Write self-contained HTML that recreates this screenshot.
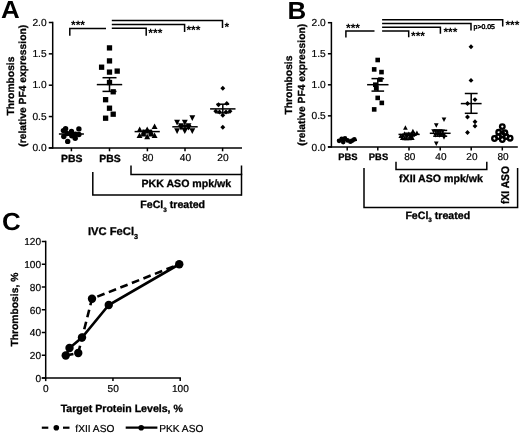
<!DOCTYPE html>
<html><head><meta charset="utf-8"><title>Figure</title>
<style>
html,body{margin:0;padding:0;background:#fff;}
svg{display:block;}
</style></head>
<body>
<svg width="520" height="434" viewBox="0 0 520 434" text-rendering="geometricPrecision">
<rect width="520" height="434" fill="#fff"/>
<text transform="translate(0.9,18.2) scale(1.05,1)" font-size="24.7" font-family="Liberation Sans, sans-serif" font-weight="bold">A</text>
<line x1="52.70" y1="21.75" x2="52.70" y2="148.65" stroke="#000" stroke-width="1.5" />
<line x1="48.80" y1="147.90" x2="242.00" y2="147.90" stroke="#000" stroke-width="1.5" />
<line x1="48.80" y1="147.90" x2="52.70" y2="147.90" stroke="#000" stroke-width="1.5" />
<text x="46.60" y="151.10" font-size="10.2" font-family="Liberation Sans, sans-serif" text-anchor="end"  stroke="#000" stroke-width="0.2">0.0</text>
<line x1="48.80" y1="116.55" x2="52.70" y2="116.55" stroke="#000" stroke-width="1.5" />
<text x="46.60" y="119.75" font-size="10.2" font-family="Liberation Sans, sans-serif" text-anchor="end"  stroke="#000" stroke-width="0.2">0.5</text>
<line x1="48.80" y1="85.20" x2="52.70" y2="85.20" stroke="#000" stroke-width="1.5" />
<text x="46.60" y="88.40" font-size="10.2" font-family="Liberation Sans, sans-serif" text-anchor="end"  stroke="#000" stroke-width="0.2">1.0</text>
<line x1="48.80" y1="53.85" x2="52.70" y2="53.85" stroke="#000" stroke-width="1.5" />
<text x="46.60" y="57.05" font-size="10.2" font-family="Liberation Sans, sans-serif" text-anchor="end"  stroke="#000" stroke-width="0.2">1.5</text>
<line x1="48.80" y1="22.50" x2="52.70" y2="22.50" stroke="#000" stroke-width="1.5" />
<text x="46.60" y="25.70" font-size="10.2" font-family="Liberation Sans, sans-serif" text-anchor="end"  stroke="#000" stroke-width="0.2">2.0</text>
<line x1="71.40" y1="147.90" x2="71.40" y2="151.30" stroke="#000" stroke-width="1.5" />
<text x="71.80" y="161.70" font-size="10.4" font-family="Liberation Sans, sans-serif" font-weight="bold" text-anchor="middle"  stroke="#000" stroke-width="0.3">PBS</text>
<line x1="109.50" y1="147.90" x2="109.50" y2="151.30" stroke="#000" stroke-width="1.5" />
<text x="109.90" y="161.70" font-size="10.4" font-family="Liberation Sans, sans-serif" font-weight="bold" text-anchor="middle"  stroke="#000" stroke-width="0.3">PBS</text>
<line x1="147.40" y1="147.90" x2="147.40" y2="151.30" stroke="#000" stroke-width="1.5" />
<text x="147.80" y="161.10" font-size="10.2" font-family="Liberation Sans, sans-serif" text-anchor="middle"  stroke="#000" stroke-width="0.2">80</text>
<line x1="185.00" y1="147.90" x2="185.00" y2="151.30" stroke="#000" stroke-width="1.5" />
<text x="185.40" y="161.10" font-size="10.2" font-family="Liberation Sans, sans-serif" text-anchor="middle"  stroke="#000" stroke-width="0.2">40</text>
<line x1="222.60" y1="147.90" x2="222.60" y2="151.30" stroke="#000" stroke-width="1.5" />
<text x="223.00" y="161.10" font-size="10.2" font-family="Liberation Sans, sans-serif" text-anchor="middle"  stroke="#000" stroke-width="0.2">20</text>
<text transform="translate(13.80,86.00) rotate(-90) scale(1,1)" font-size="10.3" font-family="Liberation Sans, sans-serif" font-weight="bold" stroke="#000" stroke-width="0.3" text-anchor="middle">Thrombosis</text>
<text transform="translate(25.90,85.80) rotate(-90) scale(1,1)" font-size="10.3" font-family="Liberation Sans, sans-serif" font-weight="bold" stroke="#000" stroke-width="0.3" text-anchor="middle">(relative PF4 expression)</text>
<circle cx="65.60" cy="128.80" r="2.7" fill="#000"/>
<circle cx="63.40" cy="130.60" r="2.7" fill="#000"/>
<circle cx="78.90" cy="128.90" r="2.7" fill="#000"/>
<circle cx="71.50" cy="131.40" r="2.7" fill="#000"/>
<circle cx="67.10" cy="133.50" r="2.7" fill="#000"/>
<circle cx="63.80" cy="136.50" r="2.7" fill="#000"/>
<circle cx="75.20" cy="138.30" r="2.7" fill="#000"/>
<circle cx="78.90" cy="134.50" r="2.7" fill="#000"/>
<circle cx="71.80" cy="135.80" r="2.7" fill="#000"/>
<circle cx="75.60" cy="134.30" r="2.7" fill="#000"/>
<circle cx="67.70" cy="141.40" r="2.7" fill="#000"/>
<line x1="58.90" y1="134.00" x2="83.90" y2="134.00" stroke="#000" stroke-width="1.5" />
<line x1="66.40" y1="132.80" x2="76.40" y2="132.80" stroke="#000" stroke-width="1.5" />
<line x1="66.40" y1="135.20" x2="76.40" y2="135.20" stroke="#000" stroke-width="1.5" />
<line x1="71.40" y1="132.80" x2="71.40" y2="135.20" stroke="#000" stroke-width="1.5" />
<rect x="106.85" y="45.25" width="5.3" height="5.3" fill="#000"/>
<rect x="106.85" y="58.25" width="5.3" height="5.3" fill="#000"/>
<rect x="98.95" y="64.55" width="5.3" height="5.3" fill="#000"/>
<rect x="106.85" y="69.45" width="5.3" height="5.3" fill="#000"/>
<rect x="114.55" y="68.45" width="5.3" height="5.3" fill="#000"/>
<rect x="106.85" y="79.85" width="5.3" height="5.3" fill="#000"/>
<rect x="110.55" y="89.15" width="5.3" height="5.3" fill="#000"/>
<rect x="102.95" y="97.05" width="5.3" height="5.3" fill="#000"/>
<rect x="106.85" y="105.55" width="5.3" height="5.3" fill="#000"/>
<rect x="110.55" y="111.55" width="5.3" height="5.3" fill="#000"/>
<rect x="102.95" y="115.55" width="5.3" height="5.3" fill="#000"/>
<line x1="96.80" y1="84.60" x2="122.20" y2="84.60" stroke="#000" stroke-width="1.5" />
<line x1="102.50" y1="77.70" x2="116.50" y2="77.70" stroke="#000" stroke-width="1.5" />
<line x1="102.50" y1="91.40" x2="116.50" y2="91.40" stroke="#000" stroke-width="1.5" />
<line x1="109.50" y1="77.70" x2="109.50" y2="91.40" stroke="#000" stroke-width="1.5" />
<polygon points="151.65,129.00 157.55,129.00 154.60,123.40" fill="#000"/>
<polygon points="136.75,132.10 142.65,132.10 139.70,126.50" fill="#000"/>
<polygon points="144.25,132.10 150.15,132.10 147.20,126.50" fill="#000"/>
<polygon points="140.55,134.80 146.45,134.80 143.50,129.20" fill="#000"/>
<polygon points="148.05,134.80 153.95,134.80 151.00,129.20" fill="#000"/>
<polygon points="136.55,138.00 142.45,138.00 139.50,132.40" fill="#000"/>
<polygon points="144.25,139.20 150.15,139.20 147.20,133.60" fill="#000"/>
<polygon points="151.65,138.00 157.55,138.00 154.60,132.40" fill="#000"/>
<polygon points="140.55,136.40 146.45,136.40 143.50,130.80" fill="#000"/>
<polygon points="148.05,136.40 153.95,136.40 151.00,130.80" fill="#000"/>
<line x1="134.60" y1="131.60" x2="159.80" y2="131.60" stroke="#000" stroke-width="1.5" />
<line x1="142.20" y1="130.40" x2="152.20" y2="130.40" stroke="#000" stroke-width="1.5" />
<line x1="142.20" y1="132.80" x2="152.20" y2="132.80" stroke="#000" stroke-width="1.5" />
<line x1="147.20" y1="130.40" x2="147.20" y2="132.80" stroke="#000" stroke-width="1.5" />
<polygon points="189.35,115.30 195.25,115.30 192.30,120.90" fill="#000"/>
<polygon points="174.15,119.80 180.05,119.80 177.10,125.40" fill="#000"/>
<polygon points="181.85,119.80 187.75,119.80 184.80,125.40" fill="#000"/>
<polygon points="177.95,123.20 183.85,123.20 180.90,128.80" fill="#000"/>
<polygon points="185.55,123.20 191.45,123.20 188.50,128.80" fill="#000"/>
<polygon points="174.15,128.30 180.05,128.30 177.10,133.90" fill="#000"/>
<polygon points="181.85,128.50 187.75,128.50 184.80,134.10" fill="#000"/>
<polygon points="189.35,128.30 195.25,128.30 192.30,133.90" fill="#000"/>
<polygon points="178.05,125.00 183.95,125.00 181.00,130.60" fill="#000"/>
<polygon points="185.55,125.00 191.45,125.00 188.50,130.60" fill="#000"/>
<line x1="172.30" y1="126.80" x2="197.70" y2="126.80" stroke="#000" stroke-width="1.5" />
<line x1="180.00" y1="125.20" x2="190.00" y2="125.20" stroke="#000" stroke-width="1.5" />
<line x1="180.00" y1="128.40" x2="190.00" y2="128.40" stroke="#000" stroke-width="1.5" />
<line x1="185.00" y1="125.20" x2="185.00" y2="128.40" stroke="#000" stroke-width="1.5" />
<polygon points="220.35,88.20 222.80,85.75 225.25,88.20 222.80,90.65" fill="#000"/>
<polygon points="220.35,127.30 222.80,124.85 225.25,127.30 222.80,129.75" fill="#000"/>
<polygon points="224.35,103.40 226.80,100.95 229.25,103.40 226.80,105.85" fill="#000"/>
<polygon points="216.05,104.80 218.50,102.35 220.95,104.80 218.50,107.25" fill="#000"/>
<polygon points="213.35,111.20 215.80,108.75 218.25,111.20 215.80,113.65" fill="#000"/>
<polygon points="227.55,111.20 230.00,108.75 232.45,111.20 230.00,113.65" fill="#000"/>
<polygon points="220.35,115.30 222.80,112.85 225.25,115.30 222.80,117.75" fill="#000"/>
<polygon points="217.05,112.00 219.50,109.55 221.95,112.00 219.50,114.45" fill="#000"/>
<polygon points="223.55,112.00 226.00,109.55 228.45,112.00 226.00,114.45" fill="#000"/>
<line x1="210.10" y1="108.90" x2="235.50" y2="108.90" stroke="#000" stroke-width="1.5" />
<line x1="216.40" y1="104.20" x2="229.20" y2="104.20" stroke="#000" stroke-width="1.5" />
<line x1="216.40" y1="112.90" x2="229.20" y2="112.90" stroke="#000" stroke-width="1.5" />
<line x1="222.80" y1="104.20" x2="222.80" y2="112.90" stroke="#000" stroke-width="1.5" />
<polyline points="69.80,35.80 69.80,28.40 106.00,28.40" fill="none" stroke="#000" stroke-width="1.5" stroke-linejoin="miter" />
<text x="71.00" y="29.30" font-size="12" font-family="Liberation Sans, sans-serif" font-weight="bold" text-anchor="start" stroke="none">***</text>
<polyline points="111.80,20.50 222.50,20.50 222.50,28.00" fill="none" stroke="#000" stroke-width="1.5" stroke-linejoin="miter" />
<polyline points="111.80,24.40 184.60,24.40 184.60,32.00" fill="none" stroke="#000" stroke-width="1.5" stroke-linejoin="miter" />
<polyline points="111.80,28.20 146.20,28.20 146.20,35.80" fill="none" stroke="#000" stroke-width="1.5" stroke-linejoin="miter" />
<text x="148.30" y="37.40" font-size="12" font-family="Liberation Sans, sans-serif" font-weight="bold" text-anchor="start" stroke="none">***</text>
<text x="186.40" y="34.00" font-size="12" font-family="Liberation Sans, sans-serif" font-weight="bold" text-anchor="start" stroke="none">***</text>
<text x="224.40" y="30.50" font-size="12" font-family="Liberation Sans, sans-serif" font-weight="bold" text-anchor="start" stroke="none">*</text>
<polyline points="131.00,165.40 131.00,174.60 241.50,174.60 241.50,165.40" fill="none" stroke="#000" stroke-width="1.5" stroke-linejoin="miter" />
<text x="186.40" y="187.10" font-size="10.6" font-family="Liberation Sans, sans-serif" font-weight="bold" text-anchor="middle"  stroke="#000" stroke-width="0.3">PKK ASO mpk/wk</text>
<polyline points="92.80,172.00 92.80,195.00 241.50,195.00" fill="none" stroke="#000" stroke-width="1.5" stroke-linejoin="miter" />
<line x1="241.50" y1="173.60" x2="241.50" y2="195.75" stroke="#000" stroke-width="1.5" />
<text x="140.30" y="207.60" font-size="10.6" font-family="Liberation Sans, sans-serif" font-weight="bold" text-anchor="start"  stroke="#000" stroke-width="0.3">FeCl<tspan font-size="6.3" dy="3.9">3</tspan><tspan dy="-3.9"> treated</tspan></text>
<text transform="translate(287.6,19.2) scale(1.05,1)" font-size="24.7" font-family="Liberation Sans, sans-serif" font-weight="bold">B</text>
<line x1="331.40" y1="21.95" x2="331.40" y2="147.65" stroke="#000" stroke-width="1.5" />
<line x1="327.90" y1="146.90" x2="517.80" y2="146.90" stroke="#000" stroke-width="1.5" />
<line x1="327.90" y1="146.90" x2="331.40" y2="146.90" stroke="#000" stroke-width="1.5" />
<text x="325.70" y="150.50" font-size="10.2" font-family="Liberation Sans, sans-serif" text-anchor="end"  stroke="#000" stroke-width="0.2">0.0</text>
<line x1="327.90" y1="115.85" x2="331.40" y2="115.85" stroke="#000" stroke-width="1.5" />
<text x="325.70" y="119.45" font-size="10.2" font-family="Liberation Sans, sans-serif" text-anchor="end"  stroke="#000" stroke-width="0.2">0.5</text>
<line x1="327.90" y1="84.80" x2="331.40" y2="84.80" stroke="#000" stroke-width="1.5" />
<text x="325.70" y="88.40" font-size="10.2" font-family="Liberation Sans, sans-serif" text-anchor="end"  stroke="#000" stroke-width="0.2">1.0</text>
<line x1="327.90" y1="53.75" x2="331.40" y2="53.75" stroke="#000" stroke-width="1.5" />
<text x="325.70" y="57.35" font-size="10.2" font-family="Liberation Sans, sans-serif" text-anchor="end"  stroke="#000" stroke-width="0.2">1.5</text>
<line x1="327.90" y1="22.70" x2="331.40" y2="22.70" stroke="#000" stroke-width="1.5" />
<text x="325.70" y="26.30" font-size="10.2" font-family="Liberation Sans, sans-serif" text-anchor="end"  stroke="#000" stroke-width="0.2">2.0</text>
<line x1="347.20" y1="146.90" x2="347.20" y2="150.50" stroke="#000" stroke-width="1.5" />
<text x="347.90" y="160.20" font-size="9.4" font-family="Liberation Sans, sans-serif" font-weight="bold" text-anchor="middle"  stroke="#000" stroke-width="0.3">PBS</text>
<line x1="377.80" y1="146.90" x2="377.80" y2="150.50" stroke="#000" stroke-width="1.5" />
<text x="378.50" y="160.20" font-size="9.4" font-family="Liberation Sans, sans-serif" font-weight="bold" text-anchor="middle"  stroke="#000" stroke-width="0.3">PBS</text>
<line x1="409.00" y1="146.90" x2="409.00" y2="150.50" stroke="#000" stroke-width="1.5" />
<text x="409.70" y="160.20" font-size="10.0" font-family="Liberation Sans, sans-serif" text-anchor="middle"  stroke="#000" stroke-width="0.2">80</text>
<line x1="440.20" y1="146.90" x2="440.20" y2="150.50" stroke="#000" stroke-width="1.5" />
<text x="440.90" y="160.20" font-size="10.0" font-family="Liberation Sans, sans-serif" text-anchor="middle"  stroke="#000" stroke-width="0.2">40</text>
<line x1="471.20" y1="146.90" x2="471.20" y2="150.50" stroke="#000" stroke-width="1.5" />
<text x="471.90" y="160.20" font-size="10.0" font-family="Liberation Sans, sans-serif" text-anchor="middle"  stroke="#000" stroke-width="0.2">20</text>
<line x1="502.30" y1="146.90" x2="502.30" y2="150.50" stroke="#000" stroke-width="1.5" />
<text x="503.00" y="160.20" font-size="10.0" font-family="Liberation Sans, sans-serif" text-anchor="middle"  stroke="#000" stroke-width="0.2">80</text>
<text transform="translate(291.90,85.00) rotate(-90) scale(1,1)" font-size="10.3" font-family="Liberation Sans, sans-serif" font-weight="bold" stroke="#000" stroke-width="0.3" text-anchor="middle">Thrombosis</text>
<text transform="translate(304.90,84.80) rotate(-90) scale(1,1)" font-size="10.3" font-family="Liberation Sans, sans-serif" font-weight="bold" stroke="#000" stroke-width="0.3" text-anchor="middle">(relative PF4 expression)</text>
<circle cx="339.10" cy="140.80" r="2.35" fill="#000"/>
<circle cx="341.70" cy="138.80" r="2.35" fill="#000"/>
<circle cx="345.00" cy="138.40" r="2.35" fill="#000"/>
<circle cx="343.20" cy="142.10" r="2.35" fill="#000"/>
<circle cx="347.50" cy="140.40" r="2.35" fill="#000"/>
<circle cx="350.40" cy="141.70" r="2.35" fill="#000"/>
<circle cx="354.30" cy="139.30" r="2.35" fill="#000"/>
<circle cx="352.30" cy="140.60" r="2.35" fill="#000"/>
<line x1="337.00" y1="140.30" x2="357.00" y2="140.30" stroke="#000" stroke-width="1.5" />
<rect x="375.40" y="57.70" width="4.6" height="4.6" fill="#000"/>
<rect x="371.90" y="67.10" width="4.6" height="4.6" fill="#000"/>
<rect x="379.20" y="69.80" width="4.6" height="4.6" fill="#000"/>
<rect x="378.10" y="77.30" width="4.6" height="4.6" fill="#000"/>
<rect x="373.00" y="82.40" width="4.6" height="4.6" fill="#000"/>
<rect x="373.90" y="86.10" width="4.6" height="4.6" fill="#000"/>
<rect x="375.40" y="95.60" width="4.6" height="4.6" fill="#000"/>
<rect x="379.50" y="100.60" width="4.6" height="4.6" fill="#000"/>
<rect x="371.90" y="107.10" width="4.6" height="4.6" fill="#000"/>
<line x1="367.10" y1="84.70" x2="388.50" y2="84.70" stroke="#000" stroke-width="1.5" />
<line x1="371.50" y1="78.60" x2="384.10" y2="78.60" stroke="#000" stroke-width="1.5" />
<line x1="371.50" y1="91.10" x2="384.10" y2="91.10" stroke="#000" stroke-width="1.5" />
<line x1="377.80" y1="78.60" x2="377.80" y2="91.10" stroke="#000" stroke-width="1.5" />
<polygon points="403.05,129.83 407.75,129.83 405.40,125.37" fill="#000"/>
<polygon points="410.55,133.13 415.25,133.13 412.90,128.67" fill="#000"/>
<polygon points="414.55,134.93 419.25,134.93 416.90,130.47" fill="#000"/>
<polygon points="402.15,135.83 406.85,135.83 404.50,131.37" fill="#000"/>
<polygon points="406.45,136.03 411.15,136.03 408.80,131.57" fill="#000"/>
<polygon points="410.65,136.73 415.35,136.73 413.00,132.27" fill="#000"/>
<polygon points="399.95,139.93 404.65,139.93 402.30,135.47" fill="#000"/>
<polygon points="404.15,140.33 408.85,140.33 406.50,135.87" fill="#000"/>
<polygon points="409.95,139.93 414.65,139.93 412.30,135.47" fill="#000"/>
<polygon points="398.45,138.03 403.15,138.03 400.80,133.57" fill="#000"/>
<polygon points="408.15,138.53 412.85,138.53 410.50,134.07" fill="#000"/>
<polygon points="400.45,137.43 405.15,137.43 402.80,132.97" fill="#000"/>
<polygon points="404.45,137.83 409.15,137.83 406.80,133.37" fill="#000"/>
<polygon points="408.85,137.43 413.55,137.43 411.20,132.97" fill="#000"/>
<polygon points="402.15,140.13 406.85,140.13 404.50,135.67" fill="#000"/>
<polygon points="407.15,140.13 411.85,140.13 409.50,135.67" fill="#000"/>
<polygon points="412.25,136.03 416.95,136.03 414.60,131.57" fill="#000"/>
<line x1="398.50" y1="134.40" x2="419.70" y2="134.40" stroke="#000" stroke-width="1.5" />
<line x1="405.10" y1="133.20" x2="413.10" y2="133.20" stroke="#000" stroke-width="1.5" />
<line x1="405.10" y1="135.60" x2="413.10" y2="135.60" stroke="#000" stroke-width="1.5" />
<line x1="409.10" y1="133.20" x2="409.10" y2="135.60" stroke="#000" stroke-width="1.5" />
<polygon points="441.65,117.57 446.35,117.57 444.00,122.03" fill="#000"/>
<polygon points="433.95,123.17 438.65,123.17 436.30,127.63" fill="#000"/>
<polygon points="433.95,141.47 438.65,141.47 436.30,145.93" fill="#000"/>
<polygon points="431.25,129.37 435.95,129.37 433.60,133.83" fill="#000"/>
<polygon points="435.65,129.57 440.35,129.57 438.00,134.03" fill="#000"/>
<polygon points="440.25,129.57 444.95,129.57 442.60,134.03" fill="#000"/>
<polygon points="433.05,132.97 437.75,132.97 435.40,137.43" fill="#000"/>
<polygon points="437.25,133.37 441.95,133.37 439.60,137.83" fill="#000"/>
<polygon points="441.65,135.17 446.35,135.17 444.00,139.63" fill="#000"/>
<polygon points="433.45,129.17 438.15,129.17 435.80,133.63" fill="#000"/>
<polygon points="437.95,129.37 442.65,129.37 440.30,133.83" fill="#000"/>
<polygon points="435.25,132.17 439.95,132.17 437.60,136.63" fill="#000"/>
<polygon points="439.45,132.57 444.15,132.57 441.80,137.03" fill="#000"/>
<polygon points="441.65,132.77 446.35,132.77 444.00,137.23" fill="#000"/>
<line x1="429.80" y1="133.30" x2="450.60" y2="133.30" stroke="#000" stroke-width="1.5" />
<line x1="433.20" y1="130.40" x2="447.20" y2="130.40" stroke="#000" stroke-width="1.5" />
<line x1="433.20" y1="136.20" x2="447.20" y2="136.20" stroke="#000" stroke-width="1.5" />
<line x1="440.20" y1="130.40" x2="440.20" y2="136.20" stroke="#000" stroke-width="1.5" />
<polygon points="468.55,46.70 471.00,44.25 473.45,46.70 471.00,49.15" fill="#000"/>
<polygon points="468.55,80.40 471.00,77.95 473.45,80.40 471.00,82.85" fill="#000"/>
<polygon points="472.55,99.60 475.00,97.15 477.45,99.60 475.00,102.05" fill="#000"/>
<polygon points="465.05,103.50 467.50,101.05 469.95,103.50 467.50,105.95" fill="#000"/>
<polygon points="465.05,117.00 467.50,114.55 469.95,117.00 467.50,119.45" fill="#000"/>
<polygon points="472.55,121.80 475.00,119.35 477.45,121.80 475.00,124.25" fill="#000"/>
<polygon points="472.55,126.10 475.00,123.65 477.45,126.10 475.00,128.55" fill="#000"/>
<polygon points="465.05,132.50 467.50,130.05 469.95,132.50 467.50,134.95" fill="#000"/>
<line x1="460.80" y1="103.60" x2="481.60" y2="103.60" stroke="#000" stroke-width="1.5" />
<line x1="464.80" y1="93.50" x2="477.60" y2="93.50" stroke="#000" stroke-width="1.5" />
<line x1="464.80" y1="113.30" x2="477.60" y2="113.30" stroke="#000" stroke-width="1.5" />
<line x1="471.20" y1="93.50" x2="471.20" y2="113.30" stroke="#000" stroke-width="1.5" />
<circle cx="494.50" cy="138.50" r="2.3" fill="none" stroke="#000" stroke-width="2.3"/>
<circle cx="510.10" cy="138.20" r="2.3" fill="none" stroke="#000" stroke-width="2.3"/>
<circle cx="502.30" cy="139.50" r="2.3" fill="none" stroke="#000" stroke-width="2.3"/>
<circle cx="498.70" cy="132.30" r="2.3" fill="none" stroke="#000" stroke-width="2.3"/>
<circle cx="504.90" cy="132.80" r="2.3" fill="none" stroke="#000" stroke-width="2.3"/>
<circle cx="502.30" cy="134.90" r="2.3" fill="none" stroke="#000" stroke-width="2.3"/>
<circle cx="502.30" cy="126.60" r="2.3" fill="none" stroke="#000" stroke-width="2.3"/>
<circle cx="498.50" cy="136.60" r="2.3" fill="none" stroke="#000" stroke-width="2.3"/>
<circle cx="506.20" cy="136.60" r="2.3" fill="none" stroke="#000" stroke-width="2.3"/>
<polyline points="345.90,37.50 345.90,31.00 374.50,31.00" fill="none" stroke="#000" stroke-width="1.5" stroke-linejoin="miter" />
<text x="346.00" y="31.50" font-size="12" font-family="Liberation Sans, sans-serif" font-weight="bold" text-anchor="start" stroke="none">***</text>
<polyline points="382.10,19.70 502.70,19.70 502.70,26.40" fill="none" stroke="#000" stroke-width="1.5" stroke-linejoin="miter" />
<polyline points="382.10,23.60 471.00,23.60 471.00,30.50" fill="none" stroke="#000" stroke-width="1.5" stroke-linejoin="miter" />
<polyline points="382.10,27.20 440.40,27.20 440.40,33.80" fill="none" stroke="#000" stroke-width="1.5" stroke-linejoin="miter" />
<polyline points="382.10,30.90 408.70,30.90 408.70,37.30" fill="none" stroke="#000" stroke-width="1.5" stroke-linejoin="miter" />
<text x="411.00" y="40.00" font-size="12" font-family="Liberation Sans, sans-serif" font-weight="bold" text-anchor="start" stroke="none">***</text>
<text x="443.40" y="35.80" font-size="12" font-family="Liberation Sans, sans-serif" font-weight="bold" text-anchor="start" stroke="none">***</text>
<text x="473.60" y="28.80" font-size="6.9" font-family="Liberation Sans, sans-serif" text-anchor="start" stroke="#000" stroke-width="0.45">p&gt;0.05</text>
<text x="505.40" y="28.50" font-size="12" font-family="Liberation Sans, sans-serif" font-weight="bold" text-anchor="start" stroke="none">***</text>
<polyline points="396.00,161.80 396.00,169.60 486.80,169.60 486.80,161.80" fill="none" stroke="#000" stroke-width="1.5" stroke-linejoin="miter" />
<text x="441.00" y="181.60" font-size="10.6" font-family="Liberation Sans, sans-serif" font-weight="bold" text-anchor="middle"  stroke="#000" stroke-width="0.3">fXII ASO mpk/wk</text>
<polyline points="364.00,168.00 364.00,207.50 517.60,207.50 517.60,168.00" fill="none" stroke="#000" stroke-width="1.5" stroke-linejoin="miter" />
<text transform="translate(508.80,185.00) rotate(-90) scale(1,1.08)" font-size="10.3" font-family="Liberation Sans, sans-serif" font-weight="bold" stroke="#000" stroke-width="0.3" text-anchor="middle">fXI ASO</text>
<text x="405.40" y="218.50" font-size="10.6" font-family="Liberation Sans, sans-serif" font-weight="bold" text-anchor="start"  stroke="#000" stroke-width="0.3">FeCl<tspan font-size="6.3" dy="3.9">3</tspan><tspan dy="-3.9"> treated</tspan></text>
<text transform="translate(2.0,230.4) scale(1.05,1)" font-size="24.7" font-family="Liberation Sans, sans-serif" font-weight="bold">C</text>
<line x1="45.70" y1="240.75" x2="45.70" y2="378.75" stroke="#000" stroke-width="1.5" />
<line x1="41.80" y1="378.00" x2="180.95" y2="378.00" stroke="#000" stroke-width="1.5" />
<line x1="41.80" y1="378.00" x2="45.70" y2="378.00" stroke="#000" stroke-width="1.5" />
<text x="41.10" y="381.90" font-size="10.1" font-family="Liberation Sans, sans-serif" text-anchor="end"  stroke="#000" stroke-width="0.2">0</text>
<line x1="41.80" y1="355.25" x2="45.70" y2="355.25" stroke="#000" stroke-width="1.5" />
<text x="41.10" y="359.15" font-size="10.1" font-family="Liberation Sans, sans-serif" text-anchor="end"  stroke="#000" stroke-width="0.2">20</text>
<line x1="41.80" y1="332.50" x2="45.70" y2="332.50" stroke="#000" stroke-width="1.5" />
<text x="41.10" y="336.40" font-size="10.1" font-family="Liberation Sans, sans-serif" text-anchor="end"  stroke="#000" stroke-width="0.2">40</text>
<line x1="41.80" y1="309.75" x2="45.70" y2="309.75" stroke="#000" stroke-width="1.5" />
<text x="41.10" y="313.65" font-size="10.1" font-family="Liberation Sans, sans-serif" text-anchor="end"  stroke="#000" stroke-width="0.2">60</text>
<line x1="41.80" y1="287.00" x2="45.70" y2="287.00" stroke="#000" stroke-width="1.5" />
<text x="41.10" y="290.90" font-size="10.1" font-family="Liberation Sans, sans-serif" text-anchor="end"  stroke="#000" stroke-width="0.2">80</text>
<line x1="41.80" y1="264.25" x2="45.70" y2="264.25" stroke="#000" stroke-width="1.5" />
<text x="41.10" y="268.15" font-size="10.1" font-family="Liberation Sans, sans-serif" text-anchor="end"  stroke="#000" stroke-width="0.2">100</text>
<line x1="41.80" y1="241.50" x2="45.70" y2="241.50" stroke="#000" stroke-width="1.5" />
<text x="41.10" y="245.40" font-size="10.1" font-family="Liberation Sans, sans-serif" text-anchor="end"  stroke="#000" stroke-width="0.2">120</text>
<line x1="45.70" y1="378.00" x2="45.70" y2="381.10" stroke="#000" stroke-width="1.5" />
<text x="45.90" y="391.70" font-size="10.1" font-family="Liberation Sans, sans-serif" text-anchor="middle"  stroke="#000" stroke-width="0.2">0</text>
<line x1="112.95" y1="378.00" x2="112.95" y2="381.10" stroke="#000" stroke-width="1.5" />
<text x="113.15" y="391.70" font-size="10.1" font-family="Liberation Sans, sans-serif" text-anchor="middle"  stroke="#000" stroke-width="0.2">50</text>
<line x1="180.20" y1="378.00" x2="180.20" y2="381.10" stroke="#000" stroke-width="1.5" />
<text x="180.40" y="391.70" font-size="10.1" font-family="Liberation Sans, sans-serif" text-anchor="middle"  stroke="#000" stroke-width="0.2">100</text>
<text x="88.00" y="235.00" font-size="11.2" font-family="Liberation Sans, sans-serif" font-weight="bold" text-anchor="start"  stroke="#000" stroke-width="0.3">IVC FeCl<tspan font-size="7.2" dy="3.6">3</tspan></text>
<text transform="translate(18.00,309.60) rotate(-90) scale(1,1)" font-size="10.3" font-family="Liberation Sans, sans-serif" font-weight="bold" stroke="#000" stroke-width="0.3" text-anchor="middle">Thrombosis, %</text>
<text x="121.80" y="411.70" font-size="10.6" font-family="Liberation Sans, sans-serif" font-weight="bold" text-anchor="middle"  stroke="#000" stroke-width="0.3">Target Protein Levels, %</text>
<polyline points="65.75,355.50 78.25,353.00 92.00,298.75 179.25,264.25" fill="none" stroke="#000" stroke-width="2.6" stroke-linejoin="miter" stroke-dasharray="7.8 4.6"/>
<polyline points="65.75,355.50 69.50,348.00 82.00,337.50 108.75,305.00 179.25,264.25" fill="none" stroke="#000" stroke-width="2.6" stroke-linejoin="miter" />
<circle cx="65.75" cy="355.50" r="4.2" fill="#000"/>
<circle cx="69.50" cy="348.00" r="4.2" fill="#000"/>
<circle cx="82.00" cy="337.50" r="4.2" fill="#000"/>
<circle cx="108.75" cy="305.00" r="4.2" fill="#000"/>
<circle cx="179.25" cy="264.25" r="4.2" fill="#000"/>
<circle cx="78.25" cy="353.00" r="4.2" fill="#000"/>
<circle cx="92.00" cy="298.75" r="4.2" fill="#000"/>
<line x1="41.80" y1="427.70" x2="48.30" y2="427.70" stroke="#000" stroke-width="2.2" />
<line x1="63.00" y1="427.70" x2="69.50" y2="427.70" stroke="#000" stroke-width="2.2" />
<circle cx="56.30" cy="427.70" r="2.8" fill="#000"/>
<text x="75.30" y="431.80" font-size="10.2" font-family="Liberation Sans, sans-serif" text-anchor="start"  stroke="#000" stroke-width="0.2">fXII ASO</text>
<line x1="125.70" y1="427.70" x2="157.40" y2="427.70" stroke="#000" stroke-width="2.2" />
<circle cx="141.20" cy="427.70" r="2.8" fill="#000"/>
<text x="159.20" y="431.80" font-size="10.2" font-family="Liberation Sans, sans-serif" text-anchor="start"  stroke="#000" stroke-width="0.2">PKK ASO</text>
</svg>
</body></html>
